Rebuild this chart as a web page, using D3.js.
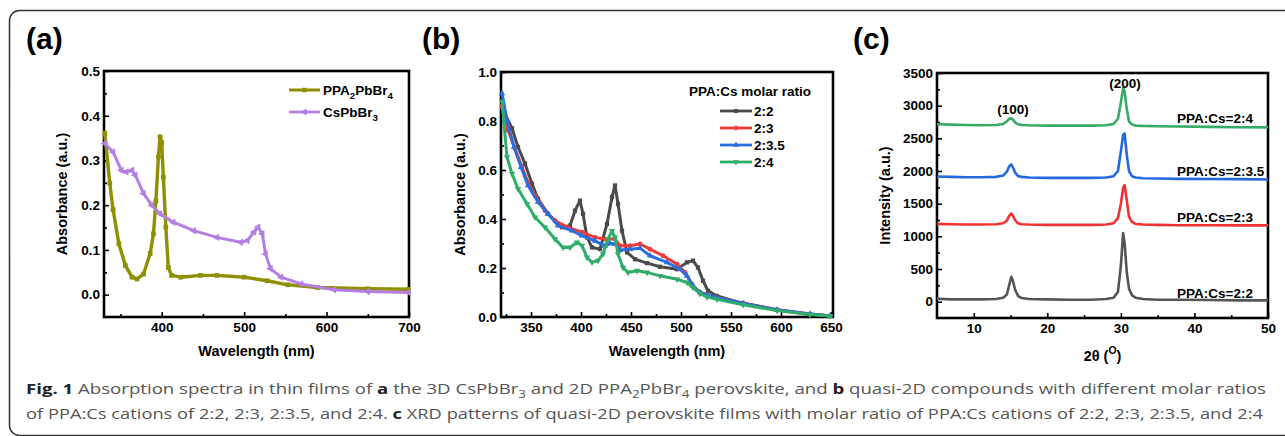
<!DOCTYPE html>
<html lang="en">
<head>
<meta charset="utf-8">
<title>Absorption spectra and XRD patterns</title>
<script src="https://d3js.org/d3.v7.min.js"></script>
<style>
body{margin:0;background:#fff;}
svg text{font-family:"Liberation Sans",Arial,sans-serif;white-space:pre;}
</style>
</head>
<body>
<script>
// ---- panel (a) data
var ppaWl  = [331,337,341,348,356,364,370,378,386,390,393,396,398,400,402,405,408,412,423,447,467,500,528,553,589,650,699];
var ppaAbs = [0.361,0.249,0.19,0.114,0.065,0.039,0.035,0.046,0.092,0.136,0.21,0.308,0.353,0.34,0.263,0.151,0.061,0.043,0.039,0.043,0.043,0.039,0.031,0.022,0.016,0.013,0.012];
var csWl   = [331,341,351,357,364,368,378,388,398,414,439,467,496,504,512,517,522,526,532,545,569,609,650,699];
var csAbs  = [0.338,0.319,0.278,0.274,0.278,0.267,0.226,0.2,0.181,0.162,0.143,0.128,0.117,0.121,0.14,0.151,0.136,0.091,0.058,0.039,0.024,0.011,0.007,0.005];

// ---- panel (b) data
var ratios = ["2:2","2:3","2:3.5","2:4"];
var b22Wl  = [321,324,331,337,344,351,357,367,381,389,394,399,402,406,411,419,426,431,434,437,441,446,454,466,479,496,506,512,517,522,527,536,562,596,629,649];
var b22Abs = [0.86,0.83,0.77,0.694,0.626,0.544,0.482,0.421,0.366,0.373,0.434,0.475,0.421,0.325,0.284,0.277,0.38,0.489,0.537,0.462,0.352,0.264,0.236,0.22,0.205,0.195,0.223,0.23,0.202,0.148,0.107,0.086,0.055,0.029,0.011,0.004];
var b23Wl  = [321,327,334,341,347,354,364,374,387,401,414,424,434,439,449,459,469,482,496,504,511,519,536,562,596,629,649];
var b23Abs = [0.86,0.762,0.687,0.612,0.55,0.496,0.434,0.393,0.366,0.346,0.325,0.318,0.318,0.291,0.291,0.298,0.277,0.25,0.216,0.182,0.134,0.1,0.079,0.057,0.03,0.012,0.005];
var b235Wl  = [321,326,333,340,347,357,367,377,391,401,414,424,429,434,439,449,459,469,486,499,506,512,519,536,562,596,629,649];
var b235Abs = [0.913,0.803,0.694,0.612,0.537,0.469,0.421,0.373,0.352,0.332,0.311,0.29,0.3,0.298,0.273,0.277,0.281,0.25,0.223,0.195,0.168,0.127,0.1,0.079,0.056,0.03,0.012,0.005];
var b24Wl  = [321,326,331,337,346,354,364,374,382,389,396,401,406,411,417,422,427,431,434,437,442,447,456,466,479,496,506,512,519,526,536,562,596,629,649];
var b24Abs = [0.88,0.653,0.585,0.523,0.462,0.407,0.366,0.318,0.284,0.284,0.305,0.291,0.243,0.223,0.23,0.257,0.318,0.352,0.325,0.257,0.202,0.182,0.189,0.182,0.168,0.154,0.141,0.12,0.095,0.082,0.072,0.05,0.026,0.01,0.004];

// ---- panel (c) data
var theta = [5,7,9,11,13,14,14.5,14.8,15.1,15.3,15.6,16,16.5,17.5,20,23,26,28,29,29.6,30,30.3,30.5,30.8,31.1,31.5,32,33,35,38,42,46,50];
var xrd22  = [45,35,35,35,40,60,110,250,380,330,190,90,55,40,35,30,30,40,60,150,550,1050,900,450,200,100,60,40,30,30,25,20,20];
var xrd23  = [1190,1185,1180,1180,1185,1200,1240,1310,1350,1320,1250,1200,1185,1180,1175,1175,1175,1180,1200,1280,1500,1740,1785,1550,1300,1220,1190,1180,1175,1170,1170,1168,1167];
var xrd235 = [1915,1910,1905,1905,1910,1930,1990,2070,2100,2060,1980,1925,1910,1900,1895,1895,1895,1900,1920,2000,2300,2550,2575,2250,2000,1920,1900,1890,1885,1880,1878,1875,1871];
var xrd24  = [2715,2710,2705,2700,2705,2720,2760,2800,2805,2790,2745,2715,2705,2700,2695,2695,2695,2700,2720,2800,3050,3265,3220,2950,2760,2710,2695,2690,2685,2680,2675,2670,2667];
var xrdLabels = ["PPA:Cs=2:2","PPA:Cs=2:3","PPA:Cs=2:3.5","PPA:Cs=2:4"];

// ticks
var aXTicks = [400,500,600,700], aXMinor = [350,450,550,650];
var aYTicks = [0,0.1,0.2,0.3,0.4,0.5], aYMinor = [0.05,0.15,0.25,0.35,0.45];
var bXTicks = [350,400,450,500,550,600,650], bXMinor = [325,375,425,475,525,575,625];
var bYTicks = [0,0.2,0.4,0.6,0.8,1.0], bYMinor = [0.1,0.3,0.5,0.7,0.9];
var cXTicks = [10,20,30,40,50], cXMinor = [15,25,35,45];
var cYTicks = [0,500,1000,1500,2000,2500,3000,3500], cYMinor = [250,750,1250,1750,2250,2750,3250];

var svg = d3.select("body").append("svg")
	.attr("width", 1285)
	.attr("height", 436);

// outer rounded frame
svg.append("rect")
	.attr("x", 9.5).attr("y", 10.5)
	.attr("width", 1300).attr("height", 425)
	.attr("rx", 10)
	.attr("fill", "none").attr("stroke", "#333").attr("stroke-width", 1.5);

// text with sub / sup / bold pieces
function rich(t, parts, base) {
	var shift = 0;
	parts.forEach(function(p) {
		var target = p[1] === "sub" ? 0.3 : (p[1] === "sup" ? -0.45 : 0);
		var ts = t.append("tspan").text(p[0]);
		if (target !== shift) ts.attr("dy", ((target - shift) * base) + "px");
		if (p[1] === "sub" || p[1] === "sup") ts.attr("font-size", (base * 0.72) + "px");
		if (p[1] === "b") ts.attr("font-weight", "bold").attr("fill", "#222");
		shift = target;
	});
}

function panel(o) {
	var x = d3.scaleLinear().domain(o.xd).range([o.x0, o.x1]);
	var y = d3.scaleLinear().domain(o.yd).range([o.y1, o.y0]);
	var g = svg.append("g");

	g.append("g").attr("transform", "translate(0," + o.y1 + ")")
		.call(d3.axisBottom(x).tickValues(o.xt).tickSize(-5).tickPadding(5.5).tickFormat(o.xf || d3.format("d")));
	g.append("g").attr("transform", "translate(0," + o.y1 + ")")
		.call(d3.axisBottom(x).tickValues(o.xm).tickSize(-3).tickFormat(""));
	g.append("g").attr("transform", "translate(" + o.x0 + ",0)")
		.call(d3.axisLeft(y).tickValues(o.yt).tickSize(-5).tickPadding(4).tickFormat(o.yf));
	g.append("g").attr("transform", "translate(" + o.x0 + ",0)")
		.call(d3.axisLeft(y).tickValues(o.ym).tickSize(-3).tickFormat(""));

	g.selectAll(".domain").remove();
	g.selectAll(".tick line").attr("stroke", "#000").attr("stroke-width", 1.6);
	g.selectAll(".tick text").attr("font-size", "13.5px").attr("font-weight", "bold").attr("fill", "#000");

	svg.append("rect")
		.attr("x", o.x0).attr("y", o.y0)
		.attr("width", o.x1 - o.x0).attr("height", o.y1 - o.y0)
		.attr("fill", "none").attr("stroke", "#000").attr("stroke-width", 2.6);

	// panel letter
	svg.append("text").attr("x", o.lx).attr("y", 49)
		.attr("font-size", "30px").attr("font-weight", "bold").text(o.letter);

	// titles
	var xt = svg.append("text").attr("x", (o.x0 + o.x1) / 2).attr("y", o.xty || 356)
		.attr("text-anchor", "middle").attr("font-size", "14.5px").attr("font-weight", "bold");
	rich(xt, o.xlab, 14.5);
	svg.append("text")
		.attr("transform", "translate(" + o.ytx + "," + ((o.y0 + o.y1) / 2) + ") rotate(-90)")
		.attr("text-anchor", "middle").attr("font-size", "14.5px").attr("font-weight", "bold")
		.text(o.ylab);

	var plot = svg.append("g");
	return {x: x, y: y, g: plot};
}

function drawSeries(p, xs, ys, color, width, sym, rot, size) {
	var pts = xs.map(function(v, i) { return [v, ys[i]]; });
	var line = d3.line().x(function(d) { return p.x(d[0]); }).y(function(d) { return p.y(d[1]); });
	p.g.append("path").datum(pts).attr("d", line)
		.attr("fill", "none").attr("stroke", color).attr("stroke-width", width).attr("stroke-linejoin", "round");
	if (sym) {
		p.g.selectAll(null).data(pts).enter().append("path")
			.attr("d", d3.symbol().type(sym).size(size))
			.attr("transform", function(d) { return "translate(" + p.x(d[0]) + "," + p.y(d[1]) + ") rotate(" + rot + ")"; })
			.attr("fill", color);
	}
}

function legendItem(x0, x1, yy, color, sym, rot, size, w) {
	svg.append("line").attr("x1", x0).attr("x2", x1).attr("y1", yy).attr("y2", yy)
		.attr("stroke", color).attr("stroke-width", w);
	svg.append("path").attr("d", d3.symbol().type(sym).size(size))
		.attr("transform", "translate(" + ((x0 + x1) / 2) + "," + yy + ") rotate(" + rot + ")")
		.attr("fill", color);
}

// ================= (a)
var olive = "#8f8f00", lilac = "#b47ee2";
var pa = panel({x0: 104, x1: 409, y0: 71, y1: 317, xd: [330, 700], yd: [-0.05, 0.5],
	xt: aXTicks, xm: aXMinor, yt: aYTicks, ym: aYMinor, yf: d3.format(".1f"),
	letter: "(a)", lx: 26, xlab: [["Wavelength (nm)", ""]], ylab: "Absorbance (a.u.)", ytx: 67});
drawSeries(pa, ppaWl, ppaAbs, olive, 3.4, d3.symbolSquare, 0, 22);
drawSeries(pa, csWl, csAbs, lilac, 3.0, d3.symbolTriangle, -90, 24);

legendItem(289, 320, 90, olive, d3.symbolSquare, 0, 20, 3);
legendItem(289, 320, 112, lilac, d3.symbolTriangle, -90, 22, 2.8);
rich(svg.append("text").attr("x", 323).attr("y", 95).attr("font-size", "13.5px").attr("font-weight", "bold"),
	[["PPA", ""], ["2", "sub"], ["PbBr", ""], ["4", "sub"]], 13.5);
rich(svg.append("text").attr("x", 323).attr("y", 117).attr("font-size", "13.5px").attr("font-weight", "bold"),
	[["CsPbBr", ""], ["3", "sub"]], 13.5);

// ================= (b)
var bColors = ["#4a4a4a", "#f03a3a", "#2a6fdc", "#2fae68"];
var bSyms = [d3.symbolSquare, d3.symbolCircle, d3.symbolTriangle, d3.symbolTriangle];
var bRot = [0, 0, 0, 180];
var pb = panel({x0: 501, x1: 833, y0: 72, y1: 317, xd: [320, 652], yd: [0, 1.0],
	xt: bXTicks, xm: bXMinor, yt: bYTicks, ym: bYMinor, yf: d3.format(".1f"),
	letter: "(b)", lx: 422, xlab: [["Wavelength (nm)", ""]], ylab: "Absorbance (a.u.)", ytx: 465});
var bWl = [b22Wl, b23Wl, b235Wl, b24Wl], bAbs = [b22Abs, b23Abs, b235Abs, b24Abs];
bWl.forEach(function(w, i) {
	drawSeries(pb, w, bAbs[i], bColors[i], 3.0, bSyms[i], bRot[i], 18);
});
svg.append("text").attr("x", 689).attr("y", 96).attr("font-size", "13.5px").attr("font-weight", "bold")
	.text("PPA:Cs molar ratio");
ratios.forEach(function(r, i) {
	var yy = 111 + i * 17;
	legendItem(720, 752, yy, bColors[i], bSyms[i], bRot[i], 16, 2.8);
	svg.append("text").attr("x", 754).attr("y", yy + 5).attr("font-size", "13.5px").attr("font-weight", "bold").text(r);
});

// ================= (c)
var cColors = ["#555555", "#f03232", "#2468e0", "#36ab68"];
var pc = panel({x0: 937, x1: 1268, y0: 73, y1: 318, xd: [5, 50], yd: [-250, 3500],
	xt: cXTicks, xm: cXMinor, yt: cYTicks, ym: cYMinor, yf: d3.format("d"),
	letter: "(c)", lx: 853, xlab: [["2\u03b8 (", ""], ["O", "sup"], [")", ""]], xty: 361,
	ylab: "Intensity (a.u.)", ytx: 890});
[xrd22, xrd23, xrd235, xrd24].forEach(function(s, i) {
	drawSeries(pc, theta, s, cColors[i], 2.6, null);
});
var labY = [297.5, 221.5, 176, 123];
xrdLabels.forEach(function(l, i) {
	svg.append("text").attr("x", 1177).attr("y", labY[i]).attr("font-size", "13.5px").attr("font-weight", "bold").text(l);
});
svg.append("text").attr("x", 1013).attr("y", 114).attr("text-anchor", "middle").attr("font-size", "13.5px").attr("font-weight", "bold").text("(100)");
svg.append("text").attr("x", 1125).attr("y", 88).attr("text-anchor", "middle").attr("font-size", "13.5px").attr("font-weight", "bold").text("(200)");

// ================= caption
var cap1 = svg.append("text").attr("x", 26).attr("y", 394)
	.attr("font-size", "14.5px").attr("fill", "#555")
	.attr("textLength", 1240).attr("lengthAdjust", "spacingAndGlyphs")
	.style("font-family", "'Open Sans', sans-serif");
rich(cap1, [["Fig. 1", "b"], [" Absorption spectra in thin films of ", ""], ["a", "b"], [" the 3D CsPbBr", ""], ["3", "sub"],
	[" and 2D PPA", ""], ["2", "sub"], ["PbBr", ""], ["4", "sub"], [" perovskite, and ", ""], ["b", "b"],
	[" quasi-2D compounds with different molar ratios", ""]], 14.5);
var cap2 = svg.append("text").attr("x", 26).attr("y", 419)
	.attr("font-size", "14.5px").attr("fill", "#555")
	.attr("textLength", 1237).attr("lengthAdjust", "spacingAndGlyphs")
	.style("font-family", "'Open Sans', sans-serif");
rich(cap2, [["of PPA:Cs cations of 2:2, 2:3, 2:3.5, and 2:4. ", ""], ["c", "b"],
	[" XRD patterns of quasi-2D perovskite films with molar ratio of PPA:Cs cations of 2:2, 2:3, 2:3.5, and 2:4", ""]], 14.5);
</script>
</body>
</html>
